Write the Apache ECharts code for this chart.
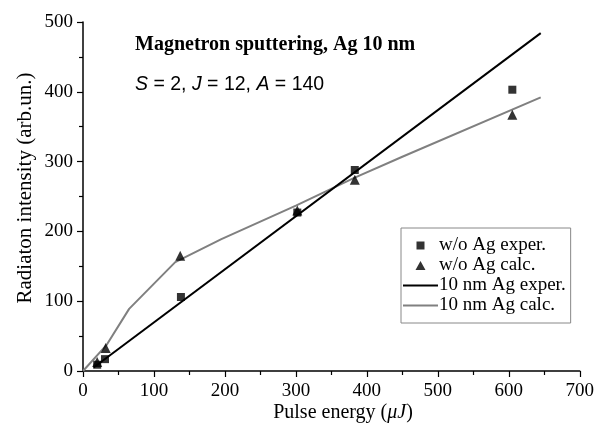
<!DOCTYPE html>
<html>
<head>
<meta charset="utf-8">
<script src="https://cdn.jsdelivr.net/npm/echarts@6/dist/echarts.min.js"></script>
<style>html,body{margin:0;padding:0;background:#fff;}#c{width:597px;height:425px;}</style>
</head>
<body>
<div id="c"></div>
<script>
// Data
var sqX = [20, 31, 138, 302, 383, 605];
var sqY = [9, 17, 106, 227, 288, 403];
var triX = [20, 32, 137, 302, 383, 605];
var triY = [13, 33, 165, 230, 274, 367];
var expLineX = [15, 645];
var expLineY = [5, 484];
var calcLineX = [0, 33, 65, 130, 195, 300, 383, 450, 645];
var calcLineY = [0, 37, 89, 156, 189, 237, 277, 307, 392];
var seriesNames = ['w/o Ag exper.', 'w/o Ag calc.', '10 nm Ag exper.', '10 nm Ag calc.'];
var titleText = 'Magnetron sputtering, Ag 10 nm';
var paramText = '{i|S} = 2, {i|J} = 12, {i|A} = 140';
var xName = '{n|Pulse energy (}{i|μJ}{n|)}';
var yName = 'Radiaton intensity (arb.un.)';

function zip(a, b) { return a.map(function (v, i) { return [v, b[i]]; }); }

var serif = 'Liberation Serif, Times New Roman, serif';
var sans = 'Liberation Sans, Arial, sans-serif';
var box = 'M0,0h0.01M35,16h0.01';
var iconSquare = 'path://' + box + 'M13.5,4h8v8h-8Z';
var iconTri = 'path://' + box + 'M17.5,3.5L22.5,12.5H12.5Z';
var iconLine = 'path://' + box + 'M0,7h35v2h-35Z';

var chart = echarts.init(document.getElementById('c'), null, { renderer: 'canvas' });
chart.setOption({
  animation: false,
  backgroundColor: '#fff',
  grid: { left: 83, right: 14, top: 22, bottom: 54, containLabel: false },
  graphic: [
    { type: 'text', left: 135, top: 35, silent: true,
      style: { text: titleText, font: 'bold 20px ' + serif, fill: '#000' } },
    { type: 'text', left: 135, top: 75, silent: true,
      style: { text: paramText, font: '19.5px ' + sans, fill: '#000',
        rich: { i: { font: 'italic 19.5px ' + sans, fill: '#000' } } } },
    { type: 'text', x: 343, y: 413, silent: true,
      style: { text: xName, align: 'center', verticalAlign: 'middle', fill: '#000',
        rich: { n: { font: '20px ' + serif, fill: '#000' }, i: { font: 'italic 20px ' + serif, fill: '#000' } } } },
    { type: 'text', x: 25, y: 188, rotation: Math.PI / 2, silent: true,
      style: { text: yName, align: 'center', verticalAlign: 'middle', font: '21px ' + serif, fill: '#000' } }
  ],
  legend: {
    left: 401, top: 228, orient: 'vertical',
    data: [
      { name: seriesNames[0], icon: iconSquare },
      { name: seriesNames[1], icon: iconTri },
      { name: seriesNames[2], icon: iconLine },
      { name: seriesNames[3], icon: iconLine }
    ],
    itemWidth: 35, itemHeight: 16, itemGap: 1,
    padding: [8, 5, 8, 2],
    borderColor: '#888', borderWidth: 1,
    textStyle: { fontFamily: serif, fontSize: 19, lineHeight: 16, color: '#000', padding: [0, 0, 0, -4] }
  },
  xAxis: {
    type: 'value', min: 0, max: 700, interval: 100,
    axisLine: { show: true, lineStyle: { color: '#000', width: 1.5 } },
    axisTick: { show: true, inside: false, length: 6, lineStyle: { color: '#000', width: 1.2 } },
    minorTick: { show: true, splitNumber: 2, length: 4, lineStyle: { color: '#000', width: 1.2 } },
    axisLabel: { fontFamily: serif, fontSize: 19, color: '#000', margin: 11 },
    splitLine: { show: false }
  },
  yAxis: {
    type: 'value', min: 0, max: 500, interval: 100,
    axisLine: { show: true, lineStyle: { color: '#000', width: 1.5 } },
    axisTick: { show: true, inside: false, length: 6, lineStyle: { color: '#000', width: 1.2 } },
    minorTick: { show: true, splitNumber: 2, length: 4, lineStyle: { color: '#000', width: 1.2 } },
    axisLabel: { fontFamily: serif, fontSize: 19, color: '#000', margin: 10 },
    splitLine: { show: false }
  },
  series: [
    { name: seriesNames[0], type: 'scatter', symbol: 'rect', symbolSize: 8,
      itemStyle: { color: '#000' }, data: zip(sqX, sqY), z: 5 },
    { name: seriesNames[1], type: 'scatter', symbol: 'triangle', symbolSize: 10,
      itemStyle: { color: '#000' }, data: zip(triX, triY), z: 5 },
    { name: seriesNames[2], type: 'line', showSymbol: false, symbol: 'none',
      lineStyle: { color: '#000', width: 2 }, itemStyle: { color: '#000' },
      data: zip(expLineX, expLineY), z: 3 },
    { name: seriesNames[3], type: 'line', showSymbol: false, symbol: 'none',
      lineStyle: { color: '#808080', width: 2 }, itemStyle: { color: '#808080' },
      data: zip(calcLineX, calcLineY), z: 2 }
  ]
});
</script>
</body>
</html>
